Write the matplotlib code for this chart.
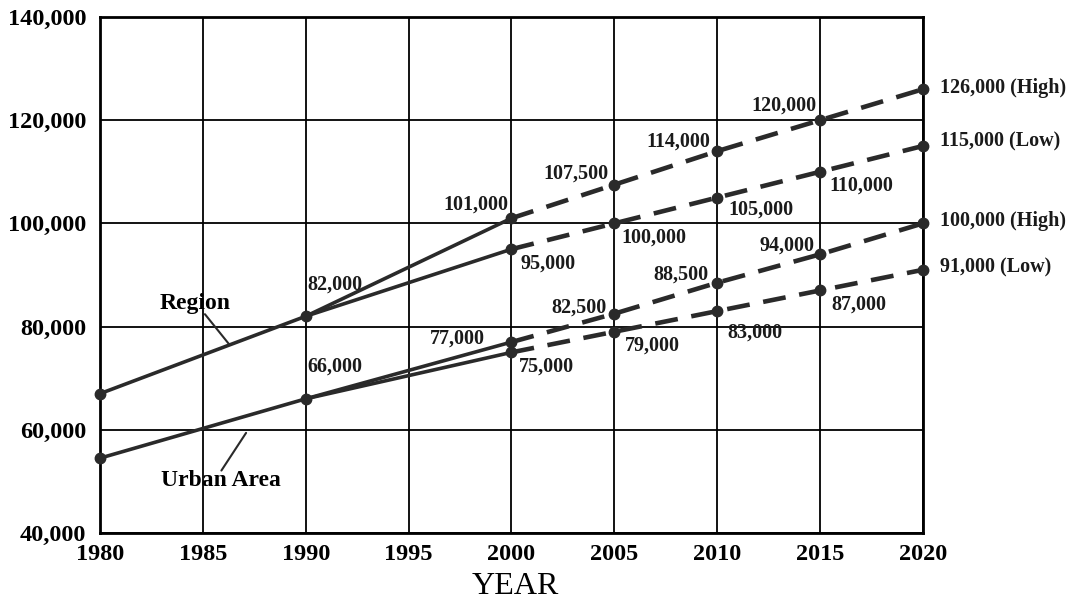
import matplotlib
matplotlib.use("Agg")
import matplotlib.pyplot as plt
import numpy as np

# ---- data ----
years_hist = [1980, 1990]
region_hist = [67000, 82000]
urban_hist = [54500, 66000]

years_proj = [2000, 2005, 2010, 2015, 2020]
region_high = [101000, 107500, 114000, 120000, 126000]
region_low = [95000, 100000, 105000, 110000, 115000]
urban_high = [77000, 82500, 88500, 94000, 100000]
urban_low = [75000, 79000, 83000, 87000, 91000]

x_ticks = [1980, 1985, 1990, 1995, 2000, 2005, 2010, 2015, 2020]
y_ticks = [40000, 60000, 80000, 100000, 120000, 140000]

plt.rcParams['font.family'] = ['Liberation Serif', 'DejaVu Serif']

fig = plt.figure(figsize=(10.73, 6.06), dpi=100)
ax = fig.add_axes([0.0932, 0.1205, 0.7670, 0.8515])

LC = '#2a2a2a'
ax.set_xlim(1980, 2020)
ax.set_ylim(40000, 140000)
ax.set_xticks(x_ticks)
ax.set_yticks(y_ticks)
ax.set_yticklabels([f"{v:,}" for v in y_ticks])
ax.set_xticklabels([str(v) for v in x_ticks])
ax.tick_params(length=0, labelsize=17.5)
ax.tick_params(axis='x', pad=8)
ax.tick_params(axis='y', pad=10)
for lab in ax.get_xticklabels() + ax.get_yticklabels():
    lab.set_fontweight('bold')
ax.grid(True, color='black', lw=1.3, zorder=0)
ax.set_axisbelow(True)
for s in ax.spines.values():
    s.set_linewidth(2.0)
    s.set_color('black')

solid_kw = dict(color=LC, lw=2.6, solid_capstyle='butt', zorder=3)
dash_kw = dict(color=LC, lw=3.3, dashes=(5, 3), dash_capstyle='butt', zorder=3)
mk_kw = dict(ls='none', marker='o', ms=7.5, color=LC, zorder=4, clip_on=False)

for hist, high, low in [(region_hist, region_high, region_low),
                        (urban_hist, urban_high, urban_low)]:
    ax.plot(years_hist, hist, **solid_kw)
    for proj in (high, low):
        ax.plot([years_hist[-1], years_proj[0]], [hist[-1], proj[0]], **solid_kw)
        ax.plot(years_proj, proj, **dash_kw)
        ax.plot(years_proj, proj, **mk_kw)
    ax.plot(years_hist, hist, **mk_kw)

# ---- point labels: (year, value, suffix, ha, dx px, dy px) ----
labels = [
    (1990, region_hist[1], '', 'left', 2, 32),
    (1990, urban_hist[1], '', 'left', 2, 32),
    (2000, region_high[0], '', 'right', -3, 14),
    (2000, region_low[0], '', 'left', 9, -14),
    (2005, region_high[1], '', 'right', -6, 11),
    (2005, region_low[1], '', 'left', 7, -14),
    (2010, region_high[2], '', 'right', -7, 10),
    (2010, region_low[2], '', 'left', 11, -12),
    (2015, region_high[3], '', 'right', -4, 15),
    (2015, region_low[3], '', 'left', 9, -14),
    (2020, region_high[4], ' (High)', 'left', 17, 1),
    (2020, region_low[4], ' (Low)', 'left', 17, 4),
    (2020, urban_high[4], ' (High)', 'left', 17, 2),
    (2020, urban_low[4], ' (Low)', 'left', 17, 2),
    (2000, urban_high[0], '', 'right', -27, 3),
    (2000, urban_low[0], '', 'left', 7, -14),
    (2005, urban_high[1], '', 'right', -8, 6),
    (2005, urban_low[1], '', 'left', 11, -14),
    (2010, urban_high[2], '', 'right', -9, 8),
    (2010, urban_low[2], '', 'left', 10, -22),
    (2015, urban_high[3], '', 'right', -6, 9),
    (2015, urban_low[3], '', 'left', 11, -14),
]
for yr, v, suf, ha, dx, dy in labels:
    ax.annotate(f"{v:,}{suf}", (yr, v), xytext=(dx, dy), textcoords='offset pixels',
                ha=ha, va='center', fontsize=14.5, fontweight='bold', color='#1a1a1a',
                annotation_clip=False)

# ---- series name labels with leader lines ----
rx = 1986.3
ax.annotate('', xy=(rx, np.interp(rx, years_hist, region_hist)), xytext=(1985.1, 82400),
            arrowprops=dict(arrowstyle='-', color=LC, lw=1.5, shrinkA=0, shrinkB=0))
ax.text(1984.6, 84500, 'Region', ha='center', va='center', fontsize=17, fontweight='bold')
ax.annotate('', xy=(1987.1, 59400), xytext=(1985.9, 52100),
            arrowprops=dict(arrowstyle='-', color=LC, lw=1.5, shrinkA=0, shrinkB=0))
ax.text(1985.9, 50100, 'Urban Area', ha='center', va='center', fontsize=17, fontweight='bold')

fig.text(515 / 1073, 1 - 586 / 606, 'YEAR', ha='center', va='center', fontsize=23)

fig.savefig('out.png', dpi=100)
